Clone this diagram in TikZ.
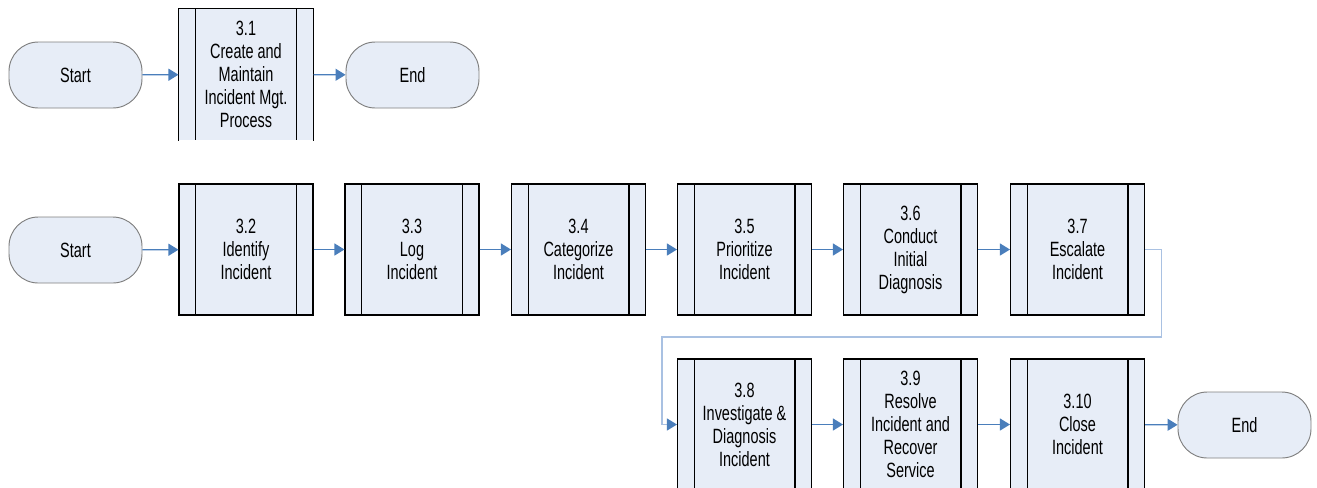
\documentclass[tikz,border=0pt]{standalone}
\usepackage{fontspec}
\newfontfamily\labfont[FakeStretch=0.70]{Liberation Sans}
\usetikzlibrary{arrows.meta}
\definecolor{boxfill}{HTML}{E7EDF7}
\definecolor{arrblue}{HTML}{4A7EBB}
\definecolor{lightblue}{HTML}{A9C1E2}
\definecolor{termline}{HTML}{7F7F7F}
\tikzset{
  every node/.style={font=\labfont\fontsize{15.5}{17.25}\selectfont, align=center, inner sep=0pt},
  procbox/.style={rectangle, fill=boxfill, draw=black, line width=0.8pt,
    minimum width=100.5pt, minimum height=98.25pt,
    path picture={
      \draw[black, line width=0.8pt] ([xshift=12.4pt]path picture bounding box.north west) -- ([xshift=12.4pt]path picture bounding box.south west);
      \draw[black, line width=0.8pt] ([xshift=-12.4pt]path picture bounding box.north east) -- ([xshift=-12.4pt]path picture bounding box.south east);
    }},
  openbox/.style={procbox, draw=none},
  term/.style={rectangle, rounded corners=22pt, fill=boxfill, draw=termline, line width=0.7pt,
    minimum width=99.75pt, minimum height=49.5pt},
  flow/.style={draw=arrblue, line width=0.9pt, -{Triangle[length=7.5pt, width=9pt]}},
  loopflow/.style={draw=lightblue, line width=0.9pt, -{Triangle[length=7.5pt, width=9pt, color=arrblue, fill=arrblue]}}
}
\begin{document}
\begin{tikzpicture}[x=0.75pt, y=-0.75pt]
\useasboundingbox (0,0) rectangle (1317,487);
\clip (0,0) rectangle (1317,487);
% row 1
\node[term] (s1) at (75.5,75) {Start};
\node[openbox] (p31) at (246,74.5) {3.1\\Create and\\Maintain\\Incident Mgt.\\Process};
\draw[black, line width=0.8pt] (p31.south west) -- (p31.north west) -- (p31.north east) -- (p31.south east);
\node[term] (e1) at (412.5,75) {End};
\draw[flow] (s1) -- (p31);
\draw[flow] (p31) -- (e1);
% row 2
\node[term] (s2) at (75.5,250) {Start};
\node[procbox] (p32) at (246,249.5) {3.2\\Identify\\Incident};
\node[procbox] (p33) at (412,249.5) {3.3\\Log\\Incident};
\node[procbox] (p34) at (578.5,249.5) {3.4\\Categorize\\Incident};
\node[procbox] (p35) at (744.5,249.5) {3.5\\Prioritize\\Incident};
\node[procbox] (p36) at (910.5,249.5) {3.6\\Conduct\\Initial\\Diagnosis};
\node[procbox] (p37) at (1077.5,249.5) {3.7\\Escalate\\Incident};
\draw[flow] (s2) -- (p32);
\draw[flow] (p32) -- (p33);
\draw[flow] (p33) -- (p34);
\draw[flow] (p34) -- (p35);
\draw[flow] (p35) -- (p36);
\draw[flow] (p36) -- (p37);
% row 3
\node[procbox] (p38) at (744.5,424.5) {3.8\\Investigate \&\\Diagnosis\\Incident};
\node[procbox] (p39) at (910.5,424.5) {3.9\\Resolve\\Incident and\\Recover\\Service};
\node[procbox] (p310) at (1077.5,424.5) {3.10\\Close\\Incident};
\node[term] (e2) at (1244.5,425) {End};
\draw[flow] (p38) -- (p39);
\draw[flow] (p39) -- (p310);
\draw[flow] (p310) -- (e2);
% loop connector
\coordinate (c1) at (1161.5,337);
\coordinate (c2) at (662,337);
\draw[loopflow] (p37.east) -| (c1) -- (c2) |- (p38.west);
\end{tikzpicture}
\end{document}
